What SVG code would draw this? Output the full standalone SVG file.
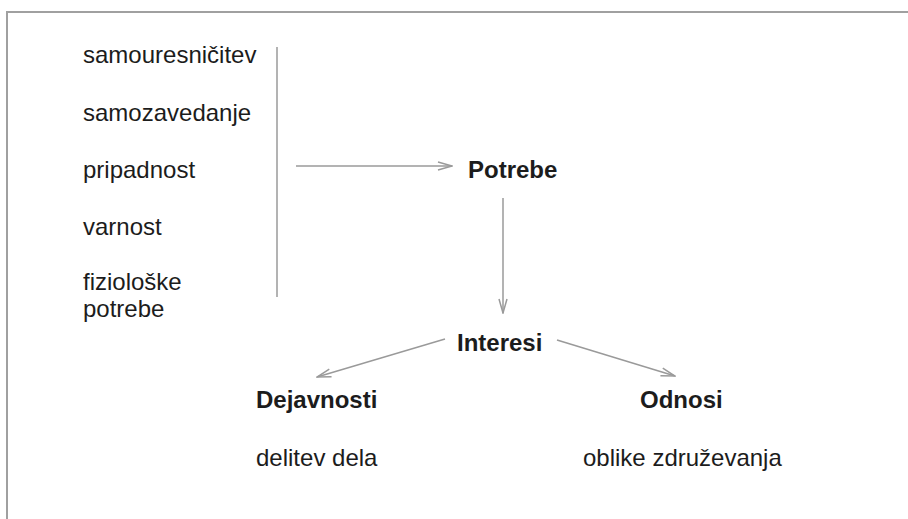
<svg xmlns="http://www.w3.org/2000/svg" width="908" height="519" viewBox="0 0 908 519">
<defs>
<style>
.t{font-family:"Liberation Sans",Arial,sans-serif;font-size:24px;fill:#1c1c1c}
.b{font-weight:bold}
.c{stroke:#9a9a9a;stroke-width:1.5;fill:none}
.frame{stroke:#a0a0a0;stroke-width:2;fill:none}
</style>
<marker id="ah" viewBox="0 0 16 10" refX="15" refY="5" markerWidth="16" markerHeight="10" markerUnits="userSpaceOnUse" orient="auto">
<path d="M1,1 L15,5 L1,9" fill="none" stroke="#9a9a9a" stroke-width="1.5"/>
</marker>
</defs>
<rect width="908" height="519" fill="#ffffff"/>
<path class="frame" d="M7,519 L7,12 L908,12"/>
<g id="levels">
<text class="t" x="83" y="63">samouresničitev</text>
<text class="t" x="83" y="121">samozavedanje</text>
<text class="t" x="83" y="178">pripadnost</text>
<text class="t" x="83" y="235">varnost</text>
<text class="t" x="83" y="290">fiziološke</text>
<text class="t" x="83" y="317">potrebe</text>
</g>
<g id="potrebe"><text class="t b" x="468" y="178">Potrebe</text></g>
<g id="interesi"><text class="t b" x="457" y="351">Interesi</text></g>
<g id="dejavnosti"><text class="t b" x="256" y="408">Dejavnosti</text></g>
<g id="delitev"><text class="t" x="256" y="466">delitev dela</text></g>
<g id="odnosi"><text class="t b" x="640" y="408">Odnosi</text></g>
<g id="oblike"><text class="t" x="583" y="466">oblike združevanja</text></g>
<g id="connectors">
<line class="c" x1="277" y1="47" x2="277" y2="297"/>
<line class="c" x1="296" y1="166" x2="452" y2="166" marker-end="url(#ah)"/>
<line class="c" x1="503" y1="198" x2="503" y2="313" marker-end="url(#ah)"/>
<line class="c" x1="445" y1="339" x2="317" y2="377" marker-end="url(#ah)"/>
<line class="c" x1="557" y1="340" x2="675" y2="376" marker-end="url(#ah)"/>
</g>
</svg>
